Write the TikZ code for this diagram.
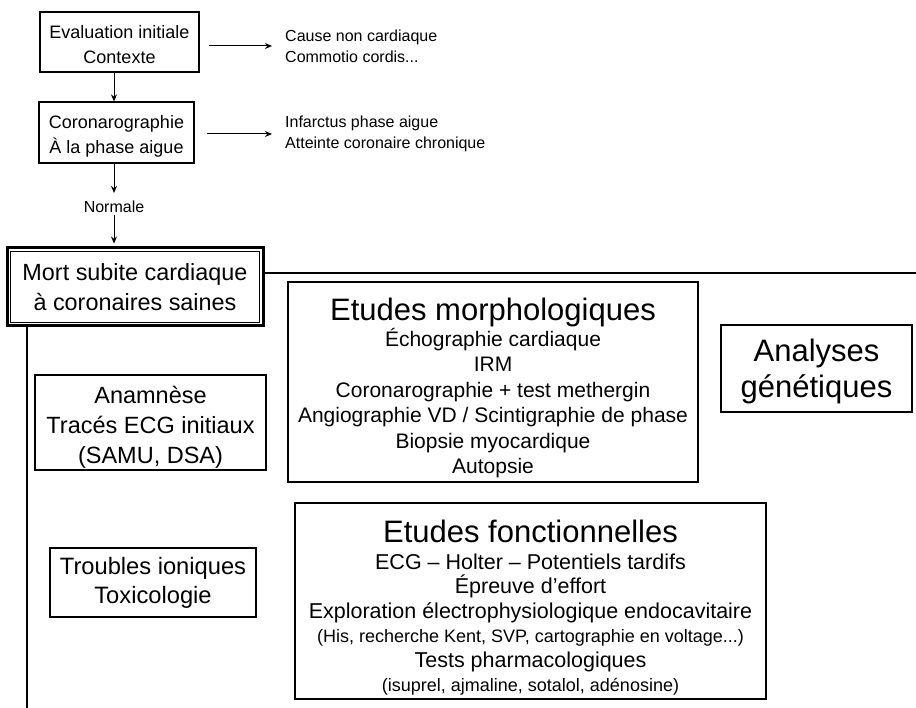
\documentclass[tikz,border=0pt]{standalone}
\usepackage{fontspec}
\setmainfont{Liberation Sans}
\usetikzlibrary{shapes,arrows,arrows.meta,positioning,calc}

\newcommand{\fsz}[2]{\fontsize{#1}{#2}\selectfont}
\newcommand{\topgap}[1]{\rule{0pt}{#1pt}}

\begin{document}
\begin{tikzpicture}[x=1pt, y=-1pt, >={Stealth[length=7pt,width=6pt]},
  box/.style={draw, line width=1.2pt, align=center, inner sep=0pt},
  note/.style={align=left, inner sep=0pt, anchor=west, font=\fsz{16}{21}},
  link/.style={->, line width=1pt},
  rail/.style={line width=1.2pt}]
\useasboundingbox (0,0) rectangle (916,708);
% first steps
\node[box, minimum width=159pt, minimum height=60pt, font=\fsz{18}{25}] (eval) at (119.5,42) {\topgap{19}Evaluation initiale\\Contexte};
\node[box, minimum width=155pt, minimum height=61pt, font=\fsz{18}{25}] (coro) at (116.5,132.5) {\topgap{21}Coronarographie\\À la phase aigue};
\node[note] (cause) at (285,46) {Cause non cardiaque\\Commotio cordis...};
\node[note] (infarct) at (285,134) {Infarctus phase aigue\\Atteinte coronaire chronique};
\node[font=\fsz{16}{20}, inner sep=0pt] (norm) at (114,207) {Normale};
\draw[link] (eval.south -| norm) -- (coro.north -| norm);
\draw[link, shorten <=9pt, shorten >=13pt] (eval.east |- cause.west) -- (cause.west);
\draw[link, shorten <=12pt, shorten >=13pt] (coro.east |- infarct.west) -- (infarct.west);
\draw[link, shorten >=8pt] (coro.south -| norm) -- (norm.north);
% main box
\node[box, line width=3pt, minimum width=256pt, minimum height=78pt, font=\fsz{23.4}{30}] (mort) at (135,287) {Mort subite cardiaque\\à coronaires saines};
\draw[line width=0.8pt] ($(mort.north west)+(5,5)$) rectangle ($(mort.south east)+(-5,-5)$);
\draw[link, shorten <=2pt, shorten >=3pt] (norm.south) -- (norm.south |- mort.north);
\coordinate (hend) at (916,273);
\coordinate (vend) at (27,708);
\draw[rail] (mort.east |- hend) -- (hend);
\draw[rail] (mort.south -| vend) -- (vend);
% investigations
\node[box, minimum width=231pt, minimum height=95pt, font=\fsz{23.5}{30}] (anam) at (150.5,422.5) {\topgap{27}Anamnèse\\Tracés ECG initiaux\\(SAMU, DSA)};
\node[box, minimum width=206pt, minimum height=69pt, font=\fsz{23.7}{29}] (tox) at (153,582.5) {Troubles ioniques\\Toxicologie};
\node[box, minimum width=410pt, minimum height=200pt, font=\fsz{21}{25.5}] (morph) at (493,382)
  {{\fsz{31}{31}\topgap{34.6}Etudes morphologiques}\\Échographie cardiaque\\IRM\\Coronarographie + test methergin\\Angiographie VD / Scintigraphie de phase\\Biopsie myocardique\\Autopsie};
\node[box, minimum width=191pt, minimum height=87pt, font=\fsz{31}{36}] (gen) at (816.5,368.5) {\topgap{28.6}Analyses\\génétiques};
\node[box, minimum width=471pt, minimum height=196pt, font=\fsz{21.5}{24.5}] (fonct) at (530.5,601)
  {{\fsz{31}{31}\topgap{36}Etudes fonctionnelles}\\[2pt]ECG – Holter – Potentiels tardifs\\Épreuve d’effort\\Exploration électrophysiologique endocavitaire\\{\fsz{18}{24}(His, recherche Kent, SVP, cartographie en voltage...)}\\Tests pharmacologiques\\{\fsz{18}{24}(isuprel, ajmaline, sotalol, adénosine)}};
\end{tikzpicture}
\end{document}
